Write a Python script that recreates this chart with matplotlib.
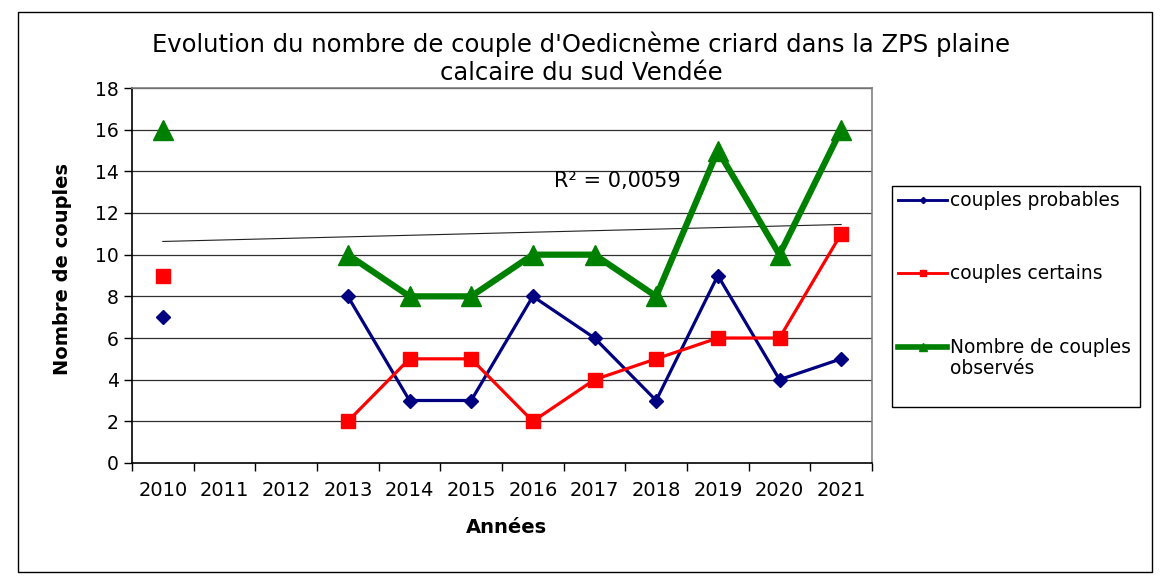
import matplotlib
matplotlib.use('Agg')
import matplotlib.pyplot as plt
from matplotlib.patches import Rectangle
from matplotlib.lines import Line2D
import numpy as np

# données
annees = ['2010', '2011', '2012', '2013', '2014', '2015',
          '2016', '2017', '2018', '2019', '2020', '2021']
couples_probables = [7, np.nan, np.nan, 8, 3, 3, 8, 6, 3, 9, 4, 5]
couples_certains = [9, np.nan, np.nan, 2, 5, 5, 2, 4, 5, 6, 6, 11]
couples_observes = [16, np.nan, np.nan, 10, 8, 8, 10, 10, 8, 15, 10, 16]
y_ticks = [0, 2, 4, 6, 8, 10, 12, 14, 16, 18]

plt.rcParams['font.family'] = 'DejaVu Sans'

W, H = 1174, 583
fig = plt.figure(figsize=(W / 100, H / 100), dpi=100)
ax = fig.add_axes([132 / W, 1 - 463 / H, (872 - 132) / W, (463 - 88) / H])

x = np.arange(len(annees))

# grille horizontale
for v in y_ticks[1:]:
    ax.axhline(v, color='#303030', lw=0.9, zorder=0)

# courbe de tendance (linéaire) sur les couples observés
obs = np.array(couples_observes, dtype=float)
ok = ~np.isnan(obs)
pente, origine = np.polyfit(x[ok], obs[ok], 1)
pred = pente * x[ok] + origine
r2 = 1 - np.sum((obs[ok] - pred) ** 2) / np.sum((obs[ok] - obs[ok].mean()) ** 2)
ax.plot([x[0], x[-1]], [pente * x[0] + origine, pente * x[-1] + origine],
        color='#202020', lw=0.8, zorder=2)
ax.text(7.37, 13.55, f"R² = {r2:.4f}".replace('.', ','), fontsize=15,
        ha='center', va='center')

series = [
    (couples_probables, 'couples probables', '#000080', 2.3, 'D', 7),
    (couples_certains, 'couples certains', '#FF0000', 2.3, 's', 10),
    (couples_observes, 'Nombre de couples\nobservés', '#008000', 4.5, '^', 14),
]
for i, (vals, lab, col, lw, mk, ms) in enumerate(series):
    ax.plot(x, vals, color=col, lw=lw, marker=mk, ms=ms, zorder=3 + i)

ax.set_xlim(-0.5, len(annees) - 0.5)
ax.set_ylim(0, 18)
ax.set_yticks(y_ticks)
ax.tick_params(axis='y', labelsize=13.5, length=6, width=1, direction='out')
ax.set_xticks(np.arange(-0.5, len(annees), 1))
ax.set_xticklabels([])
ax.tick_params(axis='x', which='major', length=6, width=1, direction='out')
ax.set_xticks(x, minor=True)
ax.set_xticklabels(annees, minor=True)
ax.tick_params(axis='x', which='minor', length=0, labelsize=14, pad=13)

for s in ['left', 'bottom']:
    ax.spines[s].set_color('black')
    ax.spines[s].set_linewidth(1.2)
for s in ['top', 'right']:
    ax.spines[s].set_color('#808080')
    ax.spines[s].set_linewidth(1.2)

ax.set_xlabel('Années', fontsize=14, fontweight='bold')
ax.xaxis.set_label_coords((506 - 132) / (872 - 132), -(518 - 463) / (463 - 88))
ax.set_ylabel('Nombre de couples', fontsize=14, fontweight='bold')
ax.yaxis.set_label_coords(-(132 - 72) / (872 - 132), (463 - 269) / (463 - 88))

fig.text(581 / W, 1 - 58 / H,
         "Evolution du nombre de couple d'Oedicnème criard dans la ZPS plaine\ncalcaire du sud Vendée",
         ha='center', va='center', fontsize=17.5, linespacing=1.2)

# légende dessinée à la main (boîte, traits, textes)
fig.patches.append(Rectangle((892 / W, 1 - 407 / H), (1140 - 892) / W, (407 - 186) / H,
                             transform=fig.transFigure, fill=False,
                             edgecolor='black', lw=1))
leg_y = [200, 273, 347]
for (vals, lab, col, lw, mk, ms), yy in zip(series, leg_y):
    fy = 1 - yy / H
    fig.add_artist(Line2D([898 / W, 947 / W], [fy, fy], transform=fig.transFigure,
                          color=col, lw=lw * 0.9))
    fig.add_artist(Line2D([922.5 / W], [fy], transform=fig.transFigure,
                          color=col, marker=mk, ms=ms * 0.45, lw=0))
    fig.text(950 / W, fy + 9 / H, lab, ha='left', va='top', fontsize=13.4,
             linespacing=1.1)

# cadre du graphique
fig.patches.append(Rectangle((18 / W, 1 - 572 / H), (1152 - 18) / W, (572 - 12) / H,
                             transform=fig.transFigure, fill=False,
                             edgecolor='black', lw=1))

fig.savefig('out.png', dpi=100)
